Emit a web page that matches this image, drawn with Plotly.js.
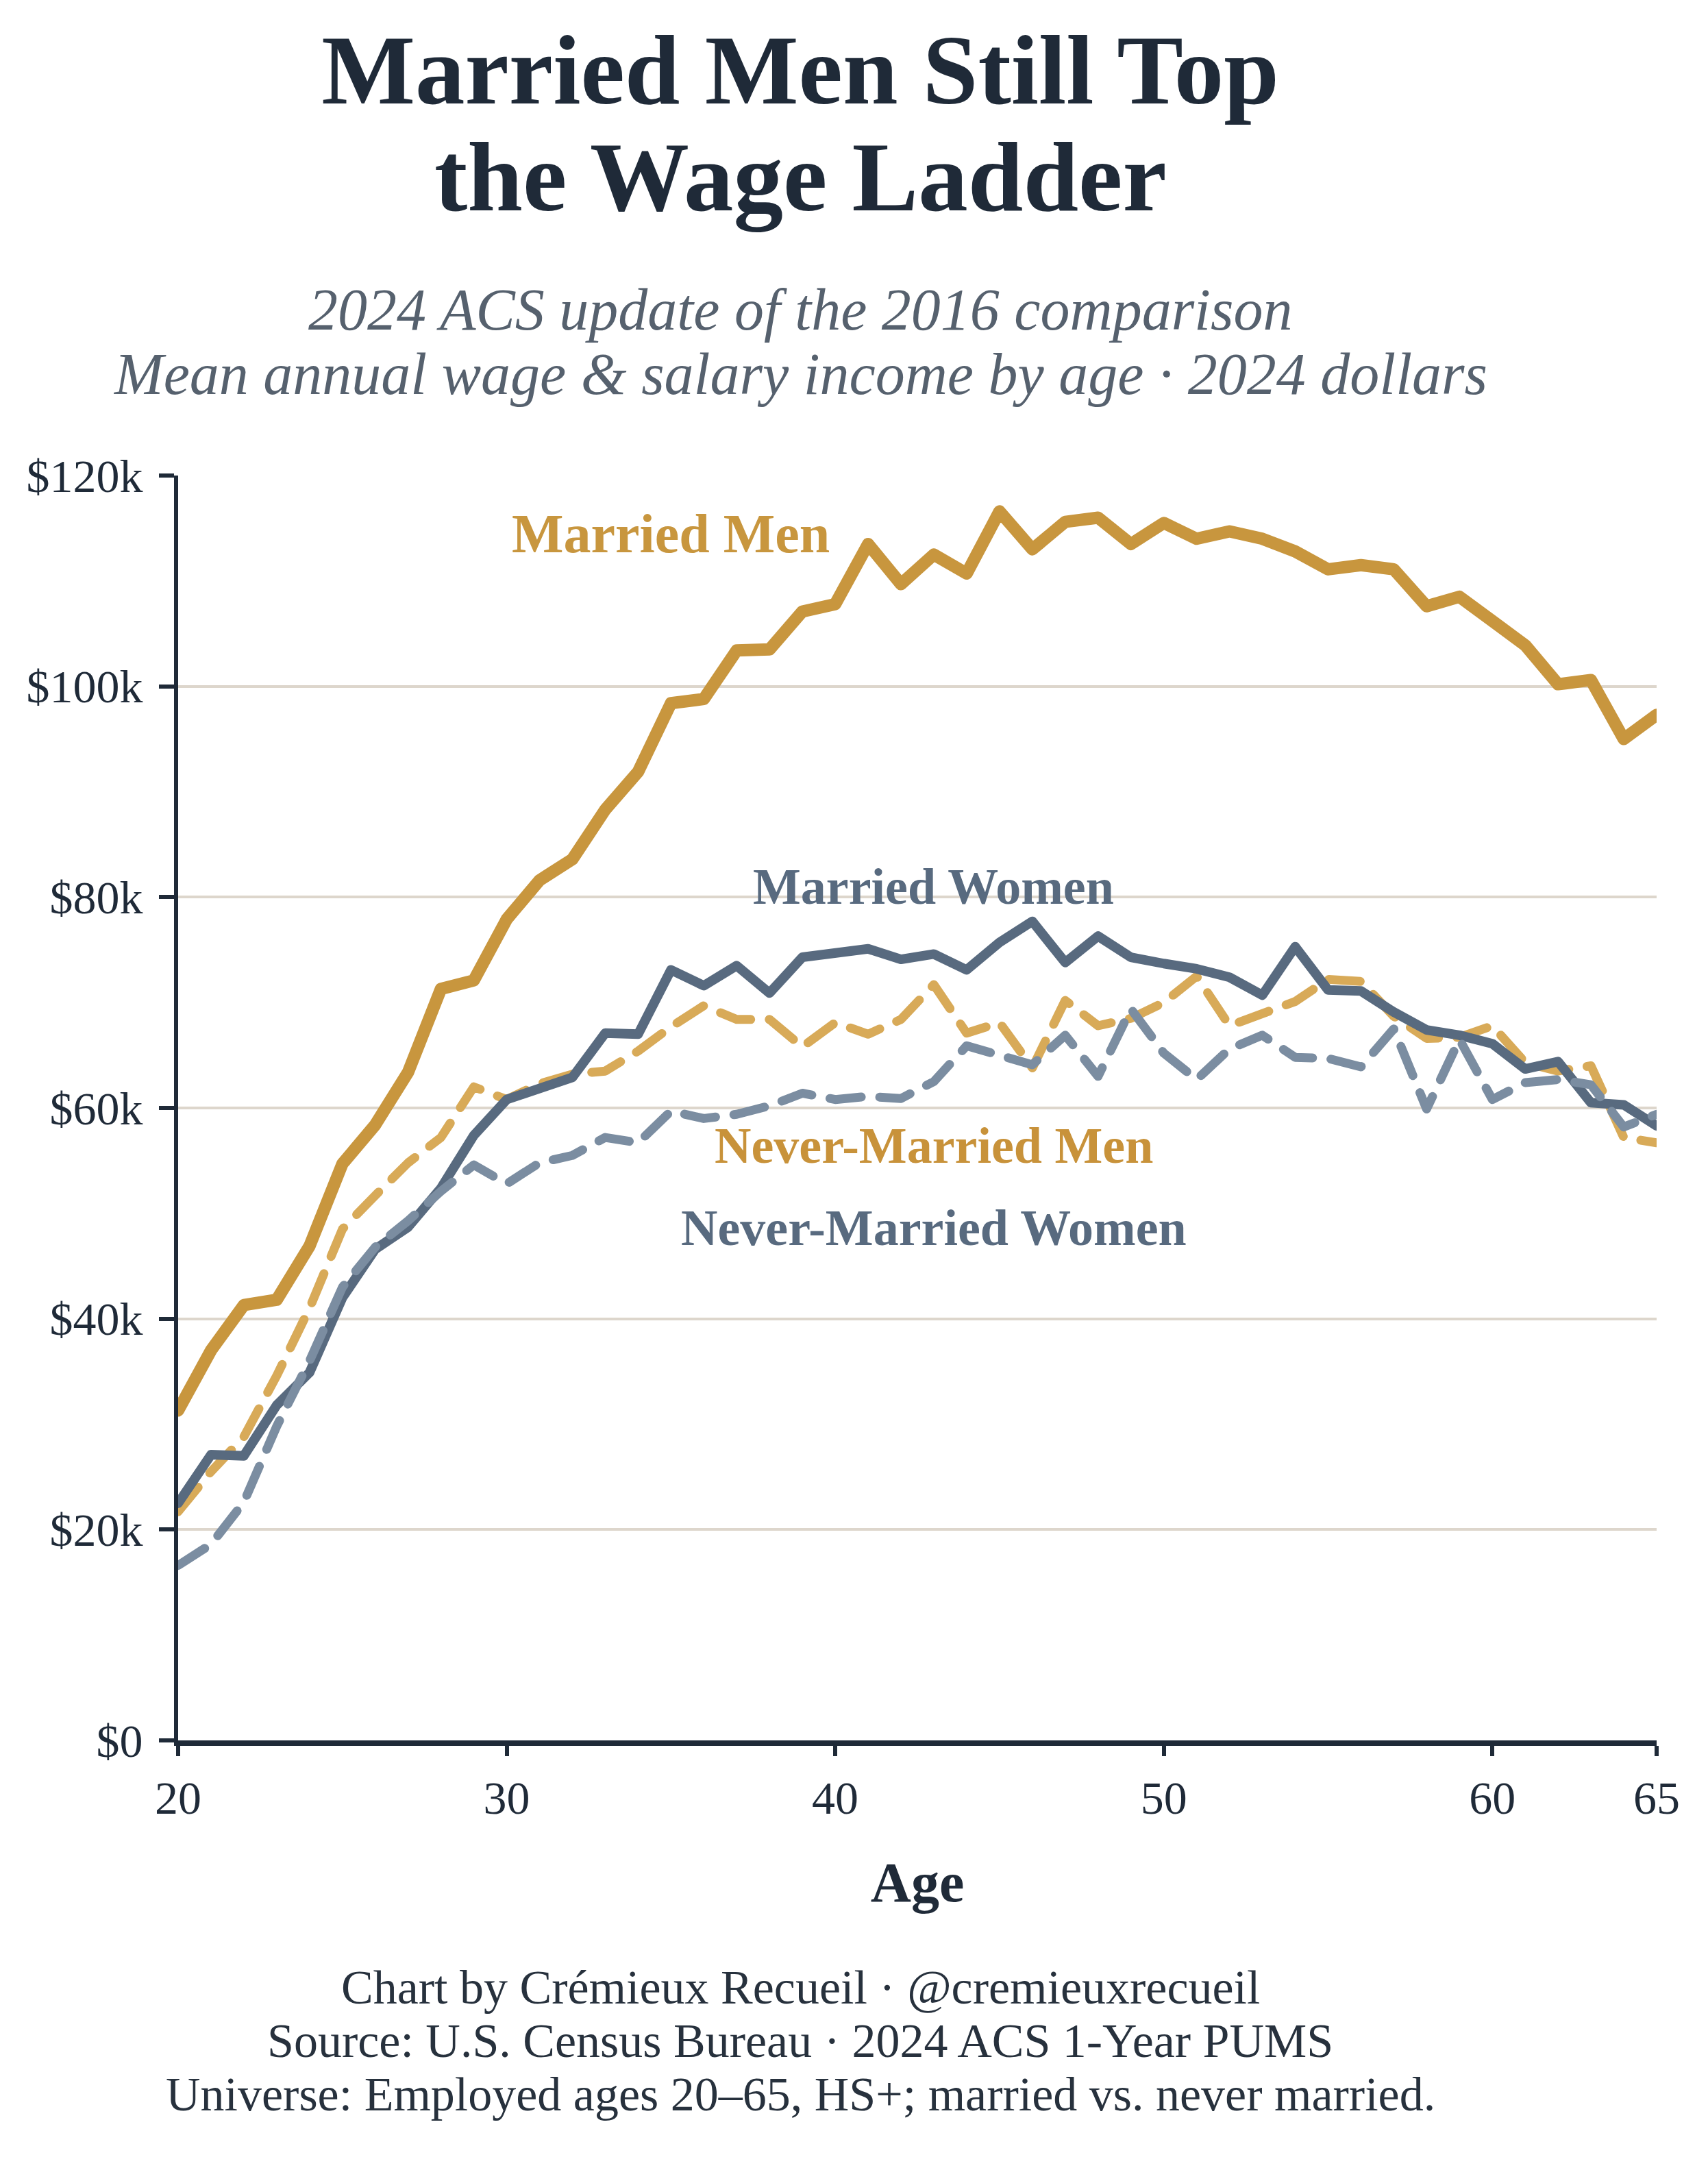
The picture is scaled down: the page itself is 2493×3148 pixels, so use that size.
<!DOCTYPE html>
<html>
<head>
<meta charset="utf-8">
<script src="https://cdn.plot.ly/plotly-3.0.1.min.js"></script>
<style>
  html, body { margin: 0; padding: 0; background: #ffffff; }
  #chart { width: 2493px; height: 3148px; }
  /* rounded ends like the original strokes */
  .scatterlayer path.js-line { stroke-linecap: round !important; stroke-linejoin: round !important; }
</style>
</head>
<body>
<div id="chart"></div>
<script>
// ---- data (thousands of 2024 dollars) ----
const ages = [20, 21, 22, 23, 24, 25, 26, 27, 28, 29,
              30, 31, 32, 33, 34, 35, 36, 37, 38, 39,
              40, 41, 42, 43, 44, 45, 46, 47, 48, 49,
              50, 51, 52, 53, 54, 55, 56, 57, 58, 59,
              60, 61, 62, 63, 64, 65];

const marriedMen = [31.3, 37.0, 41.3, 41.8, 46.9, 54.7, 58.4, 63.4, 71.3, 72.1,
                    77.9, 81.6, 83.6, 88.3, 91.9, 98.4, 98.8, 103.4, 103.5, 107.1,
                    107.8, 113.5, 109.7, 112.5, 110.7, 116.6, 113.0, 115.6, 116.0, 113.5,
                    115.5, 114.0, 114.7, 114.0, 112.8, 111.1, 111.5, 111.1, 107.6, 108.5,
                    106.2, 103.9, 100.2, 100.6, 95.0, 97.3];

const marriedWomen = [22.5, 27.1, 27.0, 31.8, 34.9, 42.0, 46.6, 48.7, 52.4, 57.4,
                      60.8, 61.8, 62.9, 67.1, 67.0, 73.1, 71.6, 73.5, 70.9, 74.3,
                      74.7, 75.1, 74.1, 74.6, 73.1, 75.7, 77.7, 73.8, 76.3, 74.3,
                      73.7, 73.2, 72.4, 70.7, 75.3, 71.2, 71.1, 69.1, 67.4, 66.9,
                      66.1, 63.7, 64.4, 60.5, 60.3, 58.3];

const neverMarriedMen = [21.7, 25.5, 28.8, 34.6, 41.0, 48.5, 51.7, 54.8, 57.2, 62.0,
                         60.8, 62.3, 63.2, 63.5, 65.4, 67.7, 69.7, 68.4, 68.4, 65.8,
                         68.1, 67.0, 68.4, 71.7, 67.1, 68.1, 63.8, 70.2, 67.8, 68.5,
                         70.0, 72.5, 67.8, 69.0, 70.1, 72.2, 72.0, 68.7, 66.6, 66.7,
                         67.8, 64.3, 63.5, 64.0, 57.2, 56.7];

const neverMarriedWomen = [16.6, 18.6, 22.6, 29.8, 36.0, 43.0, 46.8, 49.3, 52.1, 54.6,
                           52.8, 54.8, 55.5, 57.2, 56.7, 59.7, 59.0, 59.4, 60.2, 61.4,
                           60.8, 61.1, 60.9, 62.5, 65.9, 64.9, 64.1, 66.9, 63.0, 69.4,
                           65.2, 62.7, 65.6, 66.9, 64.8, 64.7, 63.9, 67.5, 59.9, 66.5,
                           60.8, 62.4, 62.7, 62.2, 58.2, 59.4];

const seriesNames = ['Married Men', 'Never-Married Men', 'Married Women', 'Never-Married Women'];

const yTickVals = [0, 20, 40, 60, 80, 100, 120];
const yTickText = ['$0', '$20k', '$40k', '$60k', '$80k', '$100k', '$120k'];
const xTickVals = [20, 30, 40, 50, 60, 65];

const titleLines = ['Married Men Still Top', 'the Wage Ladder'];
const subtitleLines = ['2024 ACS update of the 2016 comparison',
                       'Mean annual wage &amp; salary income by age · 2024 dollars'];
const footerLines = ['Chart by Crémieux Recueil · @cremieuxrecueil',
                     'Source: U.S. Census Bureau · 2024 ACS 1-Year PUMS',
                     'Universe: Employed ages 20–65, HS+; married vs. never married.'];

// ---- styling ----
const FONT = '"Liberation Serif", "Palatino Linotype", Palatino, serif';
const INK = '#1f2a38';
const GOLD = '#c8963e';
const GOLD_LIGHT = '#d8aa58';
const SLATE = '#586a7f';
const SLATE_LIGHT = '#7b8da1';
const DASH = '46px,27px';

const W = 2493, H = 3148;
const M = { l: 260, r: 75, t: 694, b: 608 };
const plotH = H - M.t - M.b;
const plotW = W - M.l - M.r;

// pixel (from top-left of page) -> paper coords
const px = x => (x - M.l) / plotW;
const py = y => (H - M.b - y) / plotH;

const traces = [
  { x: ages, y: marriedMen, name: seriesNames[0], mode: 'lines',
    line: { color: GOLD, width: 18 } },
  { x: ages, y: neverMarriedMen, name: seriesNames[1], mode: 'lines',
    line: { color: GOLD_LIGHT, width: 13, dash: DASH } },
  { x: ages, y: marriedWomen, name: seriesNames[2], mode: 'lines',
    line: { color: SLATE, width: 14 } },
  { x: ages, y: neverMarriedWomen, name: seriesNames[3], mode: 'lines',
    line: { color: SLATE_LIGHT, width: 13, dash: DASH } }
];

const textCenter = px(1168);

const annotations = [];

// second title line
annotations.push({
  xref: 'paper', yref: 'paper', x: textCenter, y: py(258),
  xanchor: 'center', yanchor: 'middle', showarrow: false,
  text: '<b>' + titleLines[1] + '</b>',
  font: { family: FONT, size: 145, color: INK }
});

// subtitle
[452, 546].forEach((yy, i) => {
  annotations.push({
    xref: 'paper', yref: 'paper', x: textCenter, y: py(yy),
    xanchor: 'center', yanchor: 'middle', showarrow: false,
    text: '<i>' + subtitleLines[i] + '</i>',
    font: { family: FONT, size: 86, color: '#56616e' }
  });
});

// footer
[2900, 2978, 3056].forEach((yy, i) => {
  annotations.push({
    xref: 'paper', yref: 'paper', x: textCenter, y: py(yy),
    xanchor: 'center', yanchor: 'middle', showarrow: false,
    text: footerLines[i],
    font: { family: FONT, size: 70, color: '#27313d' }
  });
});

// direct series labels
const labelSpots = [
  { x: 35.0, y: 114.5, color: GOLD, size: 80, name: seriesNames[0] },
  { x: 43.0, y: 81.0, color: SLATE, size: 74, name: seriesNames[2] },
  { x: 43.0, y: 56.4, color: '#c8923a', size: 74, name: seriesNames[1] },
  { x: 43.0, y: 48.6, color: SLATE, size: 74, name: seriesNames[3] }
];
labelSpots.forEach(s => {
  annotations.push({
    xref: 'x', yref: 'y', x: s.x, y: s.y,
    xanchor: 'center', yanchor: 'middle', showarrow: false,
    text: '<b>' + s.name + '</b>',
    font: { family: FONT, size: s.size, color: s.color }
  });
});

const layout = {
  width: W,
  height: H,
  margin: M,
  paper_bgcolor: '#ffffff',
  plot_bgcolor: '#ffffff',
  showlegend: false,
  font: { family: FONT, color: INK },
  title: {
    text: '<b>' + titleLines[0] + '</b>',
    xref: 'container', yref: 'container',
    x: 1168 / W, y: 1 - 100 / H,
    xanchor: 'center', yanchor: 'middle',
    font: { family: FONT, size: 145, color: INK }
  },
  xaxis: {
    range: [20, 65],
    tickvals: xTickVals,
    ticks: 'outside', ticklen: 15, tickwidth: 6, tickcolor: INK,
    ticklabelstandoff: 2,
    showline: true, linewidth: 8, linecolor: INK,
    showgrid: false, zeroline: false,
    tickfont: { family: FONT, size: 68, color: INK },
    title: { text: '<b>Age</b>', standoff: 60, font: { family: FONT, size: 82, color: INK } }
  },
  yaxis: {
    range: [0, 120],
    tickvals: yTickVals,
    ticktext: yTickText,
    ticks: 'outside', ticklen: 22, tickwidth: 6, tickcolor: INK,
    ticklabelstandoff: 10,
    showline: true, linewidth: 6, linecolor: INK,
    showgrid: true, gridcolor: '#ddd6cc', gridwidth: 4,
    zeroline: false,
    tickfont: { family: FONT, size: 68, color: INK }
  },
  annotations: annotations
};

Plotly.newPlot('chart', traces, layout, { staticPlot: true, displayModeBar: false });
</script>
</body>
</html>
